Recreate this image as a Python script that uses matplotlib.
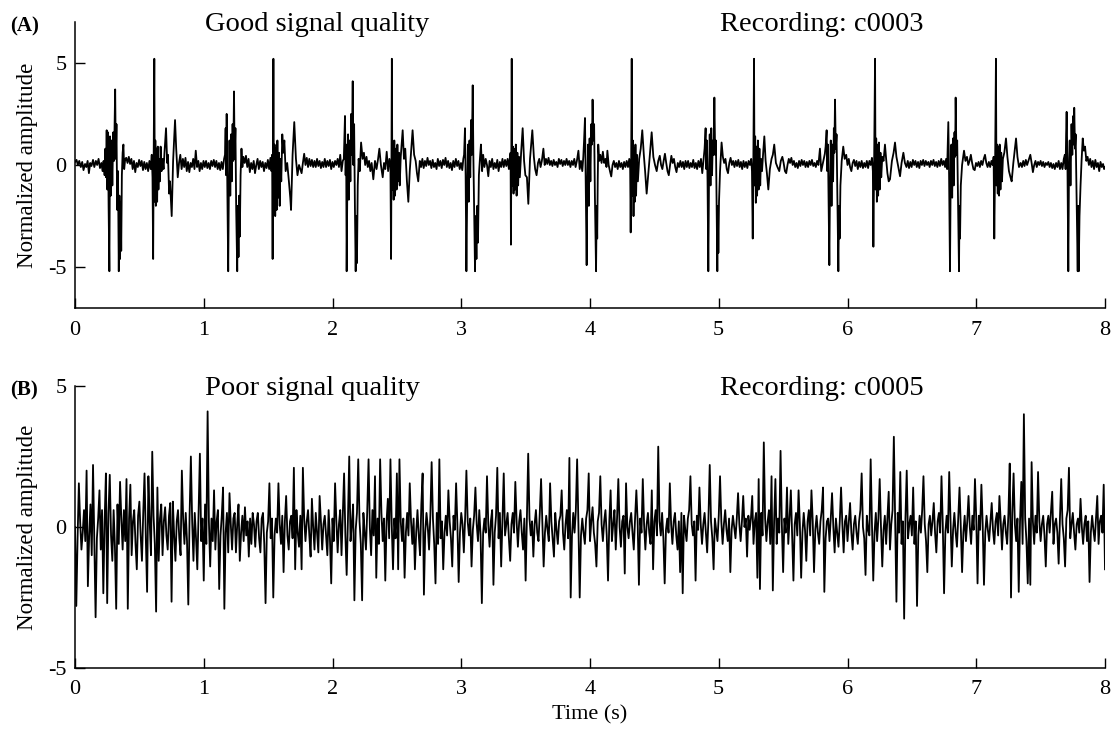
import numpy as np
import matplotlib
matplotlib.use('Agg')
import matplotlib.pyplot as plt
from matplotlib import rcParams

rcParams['font.family'] = 'serif'
rcParams['font.serif'] = ['Liberation Serif', 'DejaVu Serif']
rcParams['font.size'] = 16
rcParams['axes.linewidth'] = 1.1
rcParams['axes.unicode_minus'] = False

# recording c0003: (time s, normalized amplitude)
a_points = [
    (0.000,0.15),(0.012,0.25),(0.022,0.0),(0.033,0.2),(0.045,-0.1),(0.056,0.15),(0.066,-0.25),(0.078,0.05),
    (0.088,-0.1),(0.098,0.2),(0.108,-0.4),(0.118,0.1),(0.128,-0.05),(0.140,0.25),(0.150,-0.1),(0.162,0.2),
    (0.172,0.0),(0.183,0.3),(0.194,-0.15),(0.205,0.1),(0.214,-0.3),(0.222,0.2),(0.230,-0.5),
    # beat 1
    (0.236,0.8),(0.241,-0.6),(0.246,1.7),(0.251,-1.2),(0.256,1.6),(0.261,-2.0),(0.267,-5.2),(0.272,1.4),
    (0.278,-1.5),(0.284,1.2),(0.290,-1.0),(0.297,1.6),(0.303,0.2),(0.308,2.3),(0.312,3.7),(0.317,0.3),
    (0.322,2.0),(0.328,-2.2),(0.334,-0.3),(0.340,-5.2),(0.345,-1.5),(0.350,-4.6),(0.355,-1.8),(0.359,-4.2),
    (0.364,-0.5),(0.370,0.6),(0.376,1.0),(0.382,-0.2),(0.390,0.3),
    (0.398,0.35),(0.408,0.1),(0.418,0.4),(0.428,0.05),(0.438,0.3),(0.448,-0.2),(0.458,0.2),(0.468,-0.35),
    (0.478,0.1),(0.488,-0.1),(0.498,0.25),(0.508,-0.05),(0.518,0.2),(0.528,-0.25),(0.538,0.15),(0.548,-0.2),
    (0.558,0.1),(0.568,-0.3),(0.578,0.2),(0.588,-0.2),(0.596,0.5),
    (0.602,-0.6),(0.607,-4.6),(0.611,0.3),(0.616,5.2),(0.620,-1.8),(0.624,1.2),(0.628,-2.0),(0.633,0.8),
    (0.638,-1.8),(0.643,0.9),(0.648,-1.2),(0.653,0.3),(0.659,-0.8),(0.665,0.9),(0.672,-0.3),(0.680,0.3),
    (0.688,-0.2),(0.695,0.6),(0.707,1.8),(0.716,0.1),(0.722,0.5),(0.731,-1.4),(0.738,-0.8),(0.751,-2.5),
    (0.762,0.2),(0.777,2.2),(0.786,0.8),(0.798,-0.6),(0.808,0.1),(0.818,0.5),(0.828,-0.2),
    (0.838,0.3),(0.848,-0.1),(0.858,0.35),(0.868,-0.3),(0.878,0.15),(0.888,-0.35),(0.898,0.1),(0.908,-0.1),
    (0.918,0.3),(0.928,-0.2),(0.938,0.7),(0.948,-0.1),(0.958,0.2),(0.968,-0.3),(0.978,0.1),(0.988,-0.2),
    (0.998,0.2),(1.008,-0.1),(1.018,0.2),(1.028,-0.15),(1.038,0.1),(1.048,-0.2),(1.058,0.2),(1.068,-0.05),
    (1.078,0.25),(1.088,-0.1),(1.098,0.2),(1.108,-0.2),(1.118,0.1),(1.128,-0.25),(1.138,0.15),(1.148,-0.2),
    (1.158,0.3),
    # beat 2
    (1.165,0.5),(1.170,1.8),(1.174,-0.5),(1.178,2.5),(1.183,-1.0),(1.190,-5.2),(1.195,-1.2),(1.200,1.2),
    (1.206,-1.5),(1.212,1.5),(1.218,-0.8),(1.224,2.0),(1.229,0.2),(1.235,3.6),(1.240,0.3),(1.246,1.8),
    (1.252,-2.2),(1.260,-5.2),(1.265,-2.0),(1.270,-4.5),(1.275,-1.5),(1.280,-3.5),(1.286,-0.5),(1.293,0.8),
    (1.300,-0.1),(1.308,0.4),
    (1.318,0.1),(1.328,0.45),(1.338,-0.1),(1.348,0.3),(1.358,-0.35),(1.368,0.1),(1.378,-0.2),(1.388,0.2),
    (1.398,-0.4),(1.408,0.0),(1.418,0.3),(1.428,-0.2),(1.438,0.2),(1.448,-0.1),(1.458,0.15),(1.468,-0.3),
    (1.478,0.1),(1.488,-0.15),(1.498,0.25),(1.508,-0.2),(1.518,0.35),(1.526,-0.3),
    (1.531,0.5),(1.535,-4.6),(1.538,0.5),(1.541,5.2),(1.545,-1.5),(1.550,1.0),(1.555,-2.5),(1.560,0.8),
    (1.566,-2.2),(1.572,1.2),(1.578,-1.6),(1.584,0.6),(1.590,-2.0),(1.596,0.3),(1.602,-0.8),(1.610,1.5),
    (1.618,0.6),(1.626,1.2),(1.636,-0.3),(1.648,0.1),(1.660,-0.7),(1.672,-1.6),(1.678,-2.2),(1.690,0.5),
    (1.703,2.1),(1.716,0.3),(1.728,-0.5),(1.740,0.0),(1.750,-0.2),
    (1.760,-0.4),(1.770,0.1),(1.780,0.55),(1.790,0.0),(1.800,0.35),(1.810,-0.1),(1.820,0.3),(1.830,-0.05),
    (1.840,0.25),(1.850,-0.1),(1.860,0.2),(1.870,-0.1),(1.880,0.3),(1.890,-0.05),(1.900,0.2),(1.910,-0.15),
    (1.920,0.15),(1.930,-0.1),(1.940,0.3),(1.950,-0.1),(1.960,0.2),(1.970,-0.05),(1.980,0.25),(1.990,-0.2),
    (2.000,0.15),(2.010,-0.1),(2.020,0.2),(2.030,0.0),(2.040,0.3),(2.050,-0.1),(2.060,0.5),(2.070,-0.3),
    (2.080,0.2),
    # beat 3
    (2.088,0.3),(2.093,1.5),(2.097,2.4),(2.102,-0.5),(2.106,1.0),(2.110,-5.2),(2.115,-1.2),(2.121,1.5),
    (2.127,-1.7),(2.133,1.2),(2.139,-0.8),(2.145,2.5),(2.150,0.5),(2.157,4.1),(2.162,0.0),(2.168,2.0),
    (2.174,-2.0),(2.180,-5.2),(2.185,-2.5),(2.190,-4.8),(2.196,-1.0),(2.203,0.3),(2.212,-0.3),(2.222,1.1),
    (2.234,0.3),(2.244,0.6),
    (2.254,0.0),(2.264,0.4),(2.274,-0.1),(2.284,0.2),(2.294,-0.3),(2.304,0.1),(2.317,-0.7),(2.330,0.2),
    (2.342,-0.2),(2.354,0.3),(2.364,0.8),(2.376,0.0),(2.390,-0.6),(2.400,0.1),(2.410,-0.2),(2.421,0.65),
    (2.432,-0.3),(2.442,0.3),(2.450,-0.1),
    (2.455,-4.6),(2.458,0.4),(2.461,5.2),(2.465,-1.2),(2.470,1.0),(2.475,-1.7),(2.480,1.2),(2.486,-1.5),
    (2.492,0.8),(2.498,-1.2),(2.504,1.0),(2.510,-0.8),(2.516,0.6),(2.522,-1.0),(2.530,0.4),(2.545,1.7),
    (2.555,0.3),(2.565,0.8),(2.578,-0.8),(2.589,-1.8),(2.600,-0.3),(2.610,0.6),(2.622,1.7),(2.634,0.5),
    (2.646,0.2),(2.656,-0.4),(2.666,-0.8),(2.678,0.2),
    (2.688,-0.1),(2.698,0.3),(2.708,-0.15),(2.718,0.2),(2.728,-0.05),(2.738,0.35),(2.748,0.0),(2.758,0.2),
    (2.768,-0.15),(2.778,0.25),(2.788,-0.1),(2.798,0.1),(2.808,-0.2),(2.818,0.3),(2.828,-0.05),(2.838,0.2),
    (2.848,-0.15),(2.858,0.25),(2.868,0.0),(2.878,0.35),(2.888,-0.1),(2.898,0.2),(2.908,-0.15),(2.918,0.1),
    (2.928,-0.25),(2.938,0.2),(2.948,-0.1),(2.958,0.3),(2.968,-0.05),(2.978,0.2),(2.988,-0.2),(2.998,0.1),
    (3.008,-0.25),(3.016,0.3),
    # beat 4
    (3.022,0.5),(3.029,1.8),(3.034,-0.5),(3.040,-5.2),(3.046,-1.5),(3.052,1.0),(3.058,-1.8),(3.064,1.2),
    (3.070,-0.6),(3.076,2.2),(3.082,0.5),(3.089,3.9),(3.094,0.5),(3.100,-2.0),(3.107,-5.2),(3.112,-2.5),
    (3.118,-4.6),(3.124,-2.0),(3.130,-3.8),(3.137,-0.5),(3.145,0.3),(3.153,1.0),(3.162,-0.3),(3.170,0.5),
    (3.180,-0.1),(3.190,0.3),(3.200,0.0),(3.210,-0.55),(3.220,0.2),(3.230,-0.1),(3.240,0.3),(3.250,-0.2),
    (3.260,0.1),(3.270,-0.15),(3.280,0.25),(3.290,-0.3),(3.300,0.15),(3.310,-0.1),(3.320,0.3),(3.330,-0.1),
    (3.340,0.25),(3.350,-0.05),(3.360,0.3),(3.370,-0.2),(3.378,0.4),
    (3.383,0.6),(3.386,-3.9),(3.389,0.5),(3.392,5.2),(3.396,-1.0),(3.401,0.9),(3.406,-1.4),(3.412,0.8),
    (3.418,-1.2),(3.424,1.0),(3.430,-1.5),(3.436,0.6),(3.442,-1.0),(3.448,0.4),(3.455,-0.6),(3.465,0.6),
    (3.477,1.8),(3.488,0.2),(3.498,-0.5),(3.510,-0.6),(3.521,-1.9),(3.534,0.3),(3.552,1.7),(3.564,0.4),
    (3.574,-0.2),(3.585,-0.5),(3.596,0.1),
    (3.606,0.3),(3.616,-0.1),(3.626,0.2),(3.638,0.8),(3.648,0.0),(3.658,0.3),(3.668,0.05),(3.678,0.35),
    (3.688,0.0),(3.698,0.2),(3.708,-0.05),(3.718,0.25),(3.728,0.0),(3.738,0.15),(3.748,-0.1),(3.758,0.3),
    (3.768,0.05),(3.778,0.25),(3.788,-0.05),(3.798,0.2),(3.808,0.0),(3.818,0.3),(3.828,0.0),(3.838,0.2),
    (3.848,-0.1),(3.858,0.2),(3.868,0.0),(3.878,0.3),(3.888,-0.1),(3.898,0.2),(3.910,0.7),(3.920,-0.2),
    (3.930,0.2),(3.940,-0.3),(3.948,0.4),
    # beat 5
    (3.954,1.2),(3.961,2.3),(3.966,-0.5),(3.974,-4.9),(3.979,-1.0),(3.985,1.0),(3.991,-2.0),(3.997,1.3),
    (4.003,-0.8),(4.010,2.0),(4.015,1.0),(4.020,3.2),(4.026,1.2),(4.032,2.0),(4.038,-1.5),(4.047,-5.2),
    (4.052,-2.0),(4.056,-3.6),(4.060,-0.8),(4.064,1.0),(4.072,0.2),(4.080,0.5),
    (4.090,0.1),(4.100,0.65),(4.110,0.1),(4.120,0.3),(4.128,-0.1),(4.135,0.7),(4.145,0.0),(4.155,-0.3),
    (4.165,-0.56),(4.175,0.0),(4.185,0.2),(4.195,-0.1),(4.205,0.1),(4.215,-0.2),(4.225,0.2),(4.235,-0.1),
    (4.245,0.1),(4.255,-0.2),(4.265,0.15),(4.275,-0.1),(4.285,0.2),(4.295,-0.1),(4.305,0.3),(4.312,-0.2),
    (4.316,-3.3),(4.320,0.4),(4.324,5.2),(4.328,-1.5),(4.333,1.2),(4.338,-2.5),(4.343,0.8),(4.348,-1.8),
    (4.353,1.0),(4.358,-1.5),(4.364,0.5),(4.372,-0.8),(4.382,0.3),(4.394,0.8),(4.406,1.7),(4.418,0.5),
    (4.428,-0.3),(4.440,-1.4),(4.452,-0.5),(4.465,0.5),(4.479,1.6),(4.492,0.4),(4.505,0.0),(4.518,-0.3),
    (4.530,0.2),
    (4.542,0.45),(4.552,0.0),(4.562,-0.2),(4.572,0.2),(4.582,0.55),(4.592,0.1),(4.602,-0.3),(4.612,-0.5),
    (4.622,0.0),(4.632,0.45),(4.642,0.1),(4.652,0.3),(4.662,-0.1),(4.672,-0.35),(4.682,0.1),(4.692,-0.1),
    (4.702,0.2),(4.712,-0.1),(4.722,0.15),(4.732,-0.2),(4.742,0.2),(4.752,-0.1),(4.762,0.2),(4.772,-0.15),
    (4.782,0.1),(4.792,-0.1),(4.802,0.25),(4.812,-0.15),(4.822,0.1),(4.832,-0.2),(4.842,0.2),(4.852,-0.1),
    (4.862,0.3),(4.872,-0.4),(4.882,0.3),
    # beat 6
    (4.890,0.8),(4.898,1.8),(4.903,-0.2),(4.908,1.2),(4.913,-0.8),(4.919,-5.2),(4.924,-1.0),(4.930,1.5),
    (4.936,-1.0),(4.942,1.8),(4.948,-0.5),(4.954,1.2),(4.960,0.5),(4.966,3.3),(4.972,0.5),(4.978,1.2),
    (4.983,-1.5),(4.989,-5.2),(4.993,-2.0),(4.997,-4.3),(5.002,-1.8),(5.010,-0.3),(5.022,1.1),(5.032,0.4),
    (5.042,0.1),
    (5.052,0.3),(5.062,-0.2),(5.072,-0.4),(5.082,0.1),(5.092,0.35),(5.102,0.0),(5.112,0.2),(5.122,-0.1),
    (5.132,0.2),(5.142,-0.05),(5.152,0.25),(5.162,-0.1),(5.172,0.15),(5.182,-0.2),(5.192,0.2),(5.202,-0.1),
    (5.212,0.15),(5.222,-0.15),(5.232,0.2),(5.242,0.0),(5.252,0.3),(5.258,-0.3),
    (5.264,-3.6),(5.269,0.4),(5.274,5.2),(5.278,-1.0),(5.283,1.4),(5.288,-1.85),(5.293,0.9),(5.298,-1.5),
    (5.304,1.2),(5.310,-1.2),(5.316,0.8),(5.322,-1.0),(5.328,0.3),(5.336,-0.3),(5.345,0.6),(5.354,1.4),
    (5.364,0.2),(5.374,-0.4),(5.385,-1.2),(5.397,-0.2),(5.410,0.3),(5.420,0.5),(5.431,1.0),(5.444,0.1),
    (5.456,-0.1),(5.470,-0.3),(5.482,0.2),
    (5.494,0.4),(5.504,0.1),(5.514,-0.3),(5.524,-0.4),(5.534,0.0),(5.544,0.3),(5.554,0.1),(5.564,0.35),
    (5.574,0.0),(5.584,0.2),(5.594,-0.1),(5.604,0.1),(5.614,-0.15),(5.624,0.2),(5.634,-0.05),(5.644,0.25),
    (5.654,0.0),(5.664,0.2),(5.674,-0.1),(5.684,0.15),(5.694,-0.1),(5.704,0.2),(5.714,0.0),(5.724,0.25),
    (5.734,-0.05),(5.744,0.1),(5.754,-0.1),(5.764,0.2),(5.774,0.0),(5.786,0.8),(5.796,-0.3),(5.806,0.0),
    (5.816,0.3),(5.824,0.55),
    # beat 7
    (5.830,0.9),(5.838,1.7),(5.843,-0.3),(5.848,1.0),(5.853,-1.5),(5.859,-4.9),(5.864,-1.0),(5.870,1.2),
    (5.876,-2.0),(5.882,1.0),(5.888,-0.8),(5.894,1.8),(5.898,0.6),(5.903,3.2),(5.909,0.8),(5.915,1.5),
    (5.921,-1.5),(5.929,-5.2),(5.934,-2.0),(5.939,-3.6),(5.945,-1.0),(5.955,0.2),(5.967,0.9),(5.978,0.3),
    (5.990,0.5),
    (6.000,0.0),(6.010,0.3),(6.020,-0.1),(6.030,-0.3),(6.040,0.1),(6.050,0.25),(6.060,-0.05),(6.070,0.2),
    (6.080,-0.2),(6.090,0.15),(6.100,-0.1),(6.110,0.2),(6.120,-0.15),(6.130,0.1),(6.140,-0.1),(6.150,0.2),
    (6.160,-0.15),(6.170,0.2),(6.180,0.0),(6.190,0.35),(6.197,-0.3),
    (6.201,-4.0),(6.207,0.5),(6.214,5.2),(6.218,-1.2),(6.223,1.3),(6.228,-1.8),(6.233,1.0),(6.238,-1.5),
    (6.244,1.1),(6.250,-1.2),(6.256,0.6),(6.262,-0.6),(6.270,0.4),(6.280,0.2),(6.291,1.0),(6.300,0.3),
    (6.310,-0.4),(6.320,-0.8),(6.330,-0.7),(6.345,0.2),(6.358,0.6),(6.369,1.1),(6.380,0.4),(6.392,0.0),
    (6.408,-0.55),(6.420,0.1),(6.434,0.6),(6.446,0.1),(6.458,-0.1),
    (6.468,0.2),(6.478,-0.15),(6.488,0.15),(6.498,-0.1),(6.508,0.25),(6.518,0.0),(6.528,0.2),(6.538,-0.1),
    (6.548,0.15),(6.558,-0.15),(6.568,0.2),(6.578,0.0),(6.588,0.25),(6.598,-0.05),(6.608,0.2),(6.618,0.0),
    (6.628,0.15),(6.638,-0.1),(6.648,0.2),(6.658,0.0),(6.668,0.25),(6.678,-0.05),(6.688,0.15),(6.698,-0.1),
    (6.708,0.2),(6.718,-0.05),(6.728,0.3),(6.738,0.0),(6.748,0.2),(6.758,-0.1),(6.766,0.3),(6.774,-0.2),
    # beat 8
    (6.778,0.8),(6.783,2.1),(6.789,-0.5),(6.796,-5.2),(6.801,-1.0),(6.807,1.0),(6.813,-1.6),(6.819,1.3),
    (6.825,-1.0),(6.831,1.6),(6.836,0.4),(6.840,3.3),(6.846,0.5),(6.852,1.2),(6.858,-1.5),(6.866,-5.2),
    (6.870,-2.0),(6.874,-3.6),(6.880,-1.0),(6.890,0.0),(6.905,0.7),(6.916,0.2),(6.928,0.4),
    (6.938,0.0),(6.948,0.2),(6.958,0.5),(6.968,0.1),(6.978,-0.2),(6.988,-0.25),(6.998,0.1),(7.008,-0.05),
    (7.018,0.15),(7.028,-0.1),(7.038,0.2),(7.048,0.0),(7.058,0.3),(7.068,0.5),(7.078,0.1),(7.088,-0.1),
    (7.098,0.15),(7.108,-0.1),(7.118,0.2),(7.128,0.0),(7.135,0.4),
    (7.140,-3.6),(7.147,0.4),(7.153,5.2),(7.157,-1.0),(7.162,1.0),(7.167,-1.4),(7.172,0.9),(7.177,-1.5),
    (7.182,1.0),(7.188,-1.2),(7.194,0.6),(7.200,-0.8),(7.207,0.3),(7.218,0.6),(7.231,1.3),(7.242,0.4),
    (7.254,-0.3),(7.266,-0.6),(7.275,-0.8),(7.288,0.1),(7.300,0.8),(7.309,1.3),(7.320,0.4),(7.332,-0.1),
    (7.345,0.1),
    (7.355,-0.1),(7.365,0.2),(7.375,-0.05),(7.385,0.25),(7.395,0.0),(7.405,0.2),(7.420,0.5),(7.430,0.1),
    (7.440,-0.35),(7.450,0.0),(7.460,0.2),(7.470,-0.1),(7.480,0.15),(7.490,0.0),(7.500,0.2),(7.510,-0.05),
    (7.520,0.15),(7.530,-0.1),(7.540,0.1),(7.550,0.0),(7.560,0.15),(7.570,-0.1),(7.580,0.1),(7.590,-0.15),
    (7.600,0.05),(7.610,-0.2),(7.620,0.1),(7.630,-0.1),(7.640,0.2),(7.650,-0.2),(7.660,0.1),(7.670,-0.2),
    (7.680,0.3),(7.688,0.5),(7.694,-0.2),
    # beat 9
    (7.698,1.5),(7.702,2.6),(7.708,0.3),(7.715,-5.2),(7.720,-0.5),(7.726,1.2),(7.732,-1.0),(7.740,2.0),
    (7.746,0.5),(7.753,2.4),(7.758,1.0),(7.761,2.8),(7.767,0.8),(7.772,1.5),(7.780,-2.0),(7.788,-5.2),
    (7.792,-2.0),(7.796,-5.2),(7.802,-2.5),(7.810,-1.0),(7.818,0.2),(7.827,1.3),(7.836,0.7),(7.845,0.9),
    (7.855,0.2),
    (7.865,0.4),(7.875,0.0),(7.885,0.3),(7.895,-0.1),(7.905,0.2),(7.915,-0.2),(7.925,0.25),(7.935,-0.1),
    (7.945,0.1),(7.955,-0.3),(7.965,0.15),(7.975,-0.1),(7.985,0.05),(7.993,-0.2),(8.000,-0.1),
]

# recording c0005: one value every 10 ms
b_dt = 0.01
b_amp = [
    0.0,-2.8,-0.4,1.55,0.2,-0.8,-0.2,0.6,-0.5,2.0,-2.1,-0.3,0.8,-1.0,2.2,-0.6,-3.2,-0.4,0.3,1.3,
    -0.8,0.6,-2.35,0.2,1.9,-2.7,0.5,1.85,-0.3,-1.2,0.6,-0.7,-2.9,0.8,-0.6,1.6,0.3,-0.8,0.6,-0.5,
    1.7,-2.9,0.3,1.5,-1.0,0.2,0.6,-0.6,-1.5,0.4,0.9,-0.3,-1.2,0.5,1.9,-0.4,-2.3,1.8,0.2,-1.0,
    2.67,0.4,-0.6,-3.0,1.4,-1.2,0.3,0.8,-1.0,0.2,0.7,-0.3,-0.8,0.4,0.85,-2.65,0.9,-0.3,-1.2,0.2,
    0.6,-0.4,-1.0,2.0,0.3,-0.6,0.5,-0.5,-2.75,0.4,2.5,0.2,-1.2,0.5,-0.4,-1.5,0.5,2.6,-0.5,0.3,
    -1.9,0.8,-0.6,4.1,0.2,-1.4,0.3,-0.5,1.3,-0.8,0.2,0.6,-2.2,-0.3,0.4,1.4,-2.9,-0.2,0.5,-0.9,
    1.2,0.1,-0.8,0.3,0.5,-0.9,0.1,0.8,-1.2,-0.2,0.4,-0.5,0.7,-0.3,0.2,-1.05,0.3,-0.6,0.5,0.1,
    -0.7,0.2,0.5,-0.4,-0.9,0.3,0.5,-0.6,-2.7,-0.2,0.2,1.55,-0.4,0.3,-2.5,-0.3,0.3,-0.2,1.55,0.1,
    -0.6,0.4,-1.6,0.2,1.1,-0.3,-0.8,0.2,0.4,-0.4,2.1,-1.5,0.6,-0.2,-0.7,0.4,-1.5,2.1,0.3,-0.5,
    0.2,0.6,-0.3,-1.05,1.0,0.0,-0.8,0.5,-0.2,-0.9,1.1,0.2,-0.8,0.1,0.4,-0.3,-1.0,0.6,-0.4,-2.0,
    0.3,-0.5,1.55,0.2,-0.9,0.1,0.6,-1.0,0.4,1.9,-0.3,-1.7,0.3,2.5,-0.5,0.1,0.8,-2.6,-0.1,0.5,
    2.4,0.2,-0.6,-2.6,0.5,-0.2,-0.8,0.6,2.4,0.0,-1.0,0.6,-0.3,1.8,-1.8,0.3,-0.6,2.4,0.5,-0.5,
    0.3,-1.9,0.2,1.0,-0.4,2.4,0.1,-1.5,0.3,-0.4,1.9,-1.5,2.4,0.2,-0.5,0.3,-1.8,-0.2,0.5,-0.3,
    1.55,0.2,-0.6,0.3,-1.5,-0.2,0.6,-0.3,-1.0,0.8,1.9,-2.4,-0.2,0.5,0.0,-0.8,0.4,2.3,0.3,-0.6,
    -2.0,0.5,-0.6,2.4,-0.4,0.2,-1.5,-0.2,0.4,-0.3,1.3,0.2,-0.4,-1.4,0.4,-0.1,1.55,0.1,-1.95,-0.2,
    0.5,0.1,-0.9,0.3,2.0,0.2,-0.3,0.3,-1.4,-0.1,0.4,1.4,0.1,-0.5,0.6,-0.3,-2.7,-0.2,0.3,-0.2,
    1.8,0.1,-0.7,0.2,0.6,-2.05,-0.2,0.4,2.1,-0.4,0.5,-1.4,0.2,1.9,-0.3,0.1,0.5,-0.4,-1.2,0.1,
    0.5,-0.2,1.6,0.2,-0.7,0.2,0.6,-0.2,-0.8,0.3,-1.9,0.4,2.6,0.3,-0.3,0.2,-1.05,0.1,0.6,-0.2,
    -0.5,0.5,1.7,0.2,-1.4,-0.2,0.4,-0.1,-0.5,1.55,0.2,-0.4,-1.05,0.5,-0.1,-0.6,0.2,0.4,1.3,-0.2,
    -0.8,0.1,0.6,-0.4,2.45,-2.5,-0.3,0.5,-0.2,0.6,2.4,0.1,-2.5,-0.3,0.3,-0.2,-0.6,0.3,0.6,1.9,
    -0.5,0.2,0.7,-0.2,-0.6,-1.4,0.2,0.5,1.8,0.1,-0.5,0.2,0.6,-0.3,-1.9,0.2,1.3,-0.5,0.1,0.6,
    -0.8,0.3,1.7,0.0,-0.7,0.2,0.4,-1.65,1.55,0.0,-0.4,0.2,0.5,-0.2,-0.8,0.3,1.3,0.2,-2.05,0.3,
    -0.2,1.7,0.1,-0.8,0.1,0.5,-0.2,-0.6,1.3,-1.5,0.2,0.6,-0.3,2.85,0.2,-0.3,0.5,-0.4,-2.0,-0.1,
    0.3,-0.2,1.55,0.1,-0.6,0.2,0.5,-0.3,-0.8,0.2,-1.6,0.5,-2.35,0.4,-0.1,-0.5,0.3,0.6,1.8,0.1,
    -0.3,0.2,-1.9,0.4,-0.1,1.4,0.1,-0.6,0.1,0.5,-0.2,-0.9,0.3,2.2,0.2,-0.4,-1.5,0.3,-0.1,-0.5,
    0.4,1.8,0.2,-0.6,0.1,0.6,-0.1,-0.5,0.3,-1.6,-0.1,0.4,0.0,-0.4,0.3,1.2,0.1,-0.5,0.2,1.1,
    0.0,0.3,-1.05,0.4,-0.1,0.3,1.1,-0.6,0.2,0.5,-1.8,1.7,-2.2,0.5,-0.3,3.0,0.3,-0.5,0.2,0.6,
    -0.6,1.8,-2.25,0.2,1.7,-0.6,0.3,-0.2,2.7,0.1,-1.6,0.3,-0.2,1.4,-0.6,0.3,1.3,-0.3,-1.9,0.1,
    0.5,-0.3,1.3,0.1,-1.8,-0.2,0.5,-0.1,-1.2,0.2,0.6,-0.3,1.3,0.2,-1.6,-0.1,0.4,-0.2,-0.6,0.2,
    0.6,1.4,-2.3,-0.4,0.2,0.3,-0.5,0.3,1.2,0.0,-0.9,0.3,-0.2,-0.7,0.2,1.4,0.1,-0.9,0.2,0.4,
    -0.5,0.2,0.85,-0.2,-0.8,0.1,0.4,-0.2,-0.6,0.2,0.6,1.9,0.0,-0.4,-1.7,0.4,-0.1,-0.3,2.4,0.1,
    -1.9,-0.2,0.5,-0.5,0.3,1.7,0.0,-1.4,-0.1,0.4,-0.6,0.3,1.25,-0.8,0.1,0.6,3.2,0.2,-2.65,0.5,
    -0.2,1.95,-0.6,0.2,-3.25,0.3,2.0,-0.4,0.1,0.4,-0.3,1.4,-0.6,0.2,-2.8,-0.3,0.4,-0.2,0.6,1.8,
    0.1,-0.5,-1.6,0.1,0.4,-0.3,0.2,0.85,-0.2,-0.9,0.2,0.5,-0.2,1.8,0.1,-2.35,-0.2,0.4,-0.2,1.95,
    0.2,-1.4,-0.1,0.5,-0.2,-0.7,0.3,1.4,0.0,-1.6,-0.2,0.4,-0.5,0.2,1.1,0.0,-0.6,0.4,-0.1,1.7,
    0.3,-2.0,0.4,-0.1,1.5,0.1,-2.05,-0.2,0.4,-0.1,-0.5,0.2,0.85,-0.1,-0.6,0.2,0.5,-0.3,1.1,0.2,
    -0.8,0.1,0.4,-0.2,-0.6,0.5,2.25,-2.5,0.5,1.9,0.1,-0.5,0.3,-2.3,0.2,1.6,-0.6,4.0,0.3,-0.5,
    -2.0,0.3,-2.05,2.3,0.2,-0.6,0.4,-0.2,1.95,0.2,-0.5,0.1,0.4,-0.3,-1.4,0.1,0.4,-0.2,0.5,1.25,
    -0.6,0.1,0.3,-0.2,-1.3,0.3,1.7,0.1,-0.4,-1.4,0.3,0.6,2.1,-0.4,0.1,0.5,-0.2,-0.8,0.1,0.3,
    -0.2,1.0,0.0,-0.6,0.1,0.4,-0.5,0.2,-1.95,-0.2,0.4,-0.1,-0.5,0.3,1.1,-0.6,0.2,0.4,-0.2,1.5,
    -1.5,
]

panel_tags = ['(A)', '(B)']
quality_titles = ['Good signal quality', 'Poor signal quality']
record_titles = ['Recording: c0003', 'Recording: c0005']
x_ticks = [0, 1, 2, 3, 4, 5, 6, 7, 8]
y_ticks = [-5, 0, 5]

a_t, a_v = zip(*a_points)
b_t = np.arange(len(b_amp)) * b_dt
traces = [(a_t, a_v), (b_t, b_amp)]

W, H = 1118, 735
fig = plt.figure(figsize=(W / 100, H / 100), dpi=100)

# axes boxes in pixels: left, top, right, bottom
boxes = [(75, 22, 1105, 308), (75, 386, 1105, 668)]
ylims = [(-7, 7), (-5, 5)]

for i in range(2):
    l, t, r, b = boxes[i]
    ax = fig.add_axes([l / W, 1 - b / H, (r - l) / W, (b - t) / H])
    ax.plot(traces[i][0], traces[i][1], color='black', lw=1.3)
    ax.set_xlim(0, 8)
    ax.set_ylim(*ylims[i])
    ax.set_xticks(x_ticks)
    ax.set_yticks(y_ticks)
    ax.spines['top'].set_visible(False)
    ax.spines['right'].set_visible(False)
    ax.tick_params(direction='in', length=7, width=1.0, labelsize=16)
    ax.tick_params(axis='y', pad=6)
    ax.tick_params(axis='x', pad=9)
    ax.set_ylabel('Normalized amplitude', fontsize=16.5)
    ax.yaxis.set_label_coords(-0.036, 0.5)
    # title baseline sits ~9 px under the top of the axes
    lo, hi = ylims[i]
    ybase = hi - 9 * (hi - lo) / (b - t)
    ax.text(1.01, ybase, quality_titles[i], fontsize=20.5, va='baseline', ha='left')
    ax.text(5.01, ybase, record_titles[i], fontsize=20.5, va='baseline', ha='left')
    fig.text(10 / W, 1 - (t + 4) / H, panel_tags[i], fontsize=15, fontweight='bold',
             va='center', ha='left')
    if i == 1:
        ax.set_xlabel('Time (s)', fontsize=16, labelpad=4)

fig.savefig('out.png', dpi=100)
